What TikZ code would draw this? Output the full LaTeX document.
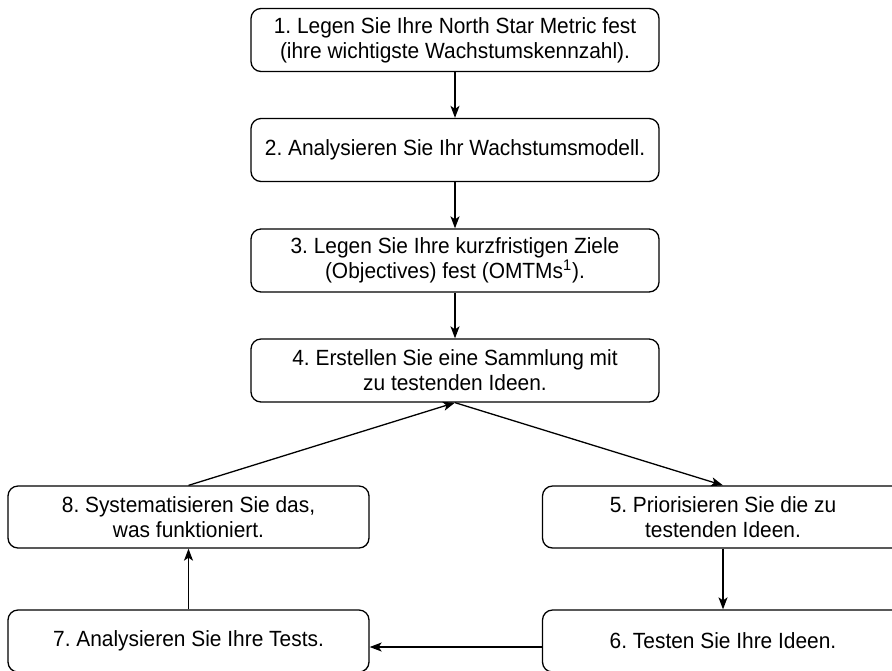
\documentclass[tikz,border=0pt]{standalone}
\usepackage{fontspec}
\setmainfont{Liberation Sans}[FakeStretch=0.95]
\usepackage{tikz}
\usetikzlibrary{arrows.meta,positioning,calc}
\tikzset{every scope/.style={>={Stealth[length=6pt,width=4.5pt,inset=1.5pt]},line width=0.65pt}}
\tikzstyle{step_box} =
  [ rectangle
  , rounded corners=5pt
  , draw
  , align=center
  , inner sep=2pt
  , font=\fontsize{11}{12.5}\selectfont
  ]
\tikzstyle{wide_box} =
  [ step_box
  , minimum width=204pt
  , minimum height=31.5pt
  ]
\tikzstyle{side_box} =
  [ step_box
  , minimum width=180.5pt
  , minimum height=31pt
  ]
\frenchspacing

\begin{document}
\begin{tikzpicture}[x=0.5pt, y=-0.5pt]
    \clip (0,0) rectangle (892,670);

    % Main column
    \node[wide_box] (define_nsm)   at (455, 40)    {1. Legen Sie Ihre North Star Metric fest\\(ihre wichtigste Wachstumskennzahl).};
    \node[wide_box] (growth_model) at (455, 150)   {2. Analysieren Sie Ihr Wachstumsmodell.};
    \node[wide_box] (objectives)   at (455, 260.5) {3. Legen Sie Ihre kurzfristigen Ziele\\(Objectives) fest (OMTMs\textsuperscript{1}).};
    \node[wide_box] (idea_backlog) at (455, 370.5) {4. Erstellen Sie eine Sammlung mit\\zu testenden Ideen.};

    \draw[->] (define_nsm)   -- (growth_model);
    \draw[->] (growth_model) -- (objectives);
    \draw[->] (objectives)   -- (idea_backlog);

    % Test loop
    \node[side_box] (prioritize)  at (723, 517)   {5. Priorisieren Sie die zu\\testenden Ideen.};
    \node[side_box] (run_tests)   at (723, 641)   {6. Testen Sie Ihre Ideen.};
    \node[side_box] (analyze)     at (188.5, 641) {7. Analysieren Sie Ihre Tests.};
    \node[side_box] (systematize) at (188.5, 517) {8. Systematisieren Sie das,\\was funktioniert.};

    \draw[->] (idea_backlog.south) -- (prioritize.north);
    \draw[->] (prioritize)         -- (run_tests);
    \draw[->] ([yshift=-3pt]run_tests.west) -- ([yshift=-3pt]analyze.east);
    \draw[->] (analyze)            -- (systematize);
    \draw[->] (systematize.north)  -- (idea_backlog.south);

  \end{tikzpicture}
\end{document}
